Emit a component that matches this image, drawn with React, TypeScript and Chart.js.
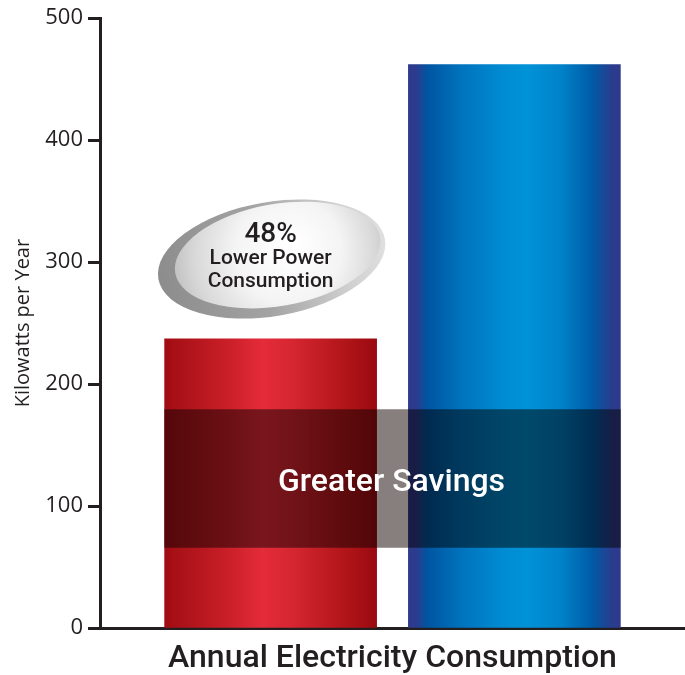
import React, { useEffect, useRef } from 'react';
import { Chart, registerables } from 'chart.js';

Chart.register(...registerables);

// ---- data ----
const categories = ['Competitor', 'Standard'];
const barPositions = [1, 2];
const consumption = [237, 462];
const savingsBand = [66, 179];
const savingsBandPosition = 1.5;
const yTickValues = [0, 100, 200, 300, 400, 500];
const yAxisTitle = 'Kilowatts per Year';
const xAxisTitle = 'Annual Electricity Consumption';
const bandLabel = 'Greater Savings';
const calloutLines = ['48%', 'Lower Power', 'Consumption'];
const calloutAnchor = { x: 1.0, y: 305 };

// ---- styles ----
const INK = '#231f20';
const BAR_PX = 212;
const BAND_PX = 456;
const redStops: [number, string][] = [
  [0, '#a00c12'], [0.06, '#a81117'], [0.3, '#ca1f29'], [0.46, '#e42b3a'],
  [0.6, '#d62631'], [0.85, '#b11519'], [1, '#9a0a10'],
];
const blueStops: [number, string][] = [
  [0, '#2e3a8c'], [0.035, '#2e3a8c'], [0.09, '#0055a2'], [0.25, '#0073bd'],
  [0.45, '#008cd2'], [0.56, '#0092d8'], [0.72, '#0082c9'], [0.87, '#005aa6'],
  [0.96, '#2a3c8e'], [1, '#2e3a8c'],
];
const fallbackColors = ['#d42430', '#0082c9'];

function barGradient(ctx: any) {
  const chart = ctx.chart;
  const xs = chart.scales && chart.scales.x;
  if (!chart.chartArea || !xs || ctx.dataIndex === undefined) {
    return fallbackColors[ctx.dataIndex || 0];
  }
  const cx = xs.getPixelForValue(barPositions[ctx.dataIndex]);
  const g = chart.ctx.createLinearGradient(cx - BAR_PX / 2, 0, cx + BAR_PX / 2, 0);
  const stops = ctx.dataIndex === 0 ? redStops : blueStops;
  stops.forEach(([o, c]) => g.addColorStop(o, c));
  return g;
}

function ellipse(c: CanvasRenderingContext2D, x: number, y: number, rx: number, ry: number, rot: number) {
  c.beginPath();
  c.ellipse(x, y, rx, ry, rot, 0, Math.PI * 2);
  c.closePath();
}

const decorPlugin = {
  id: 'decor',
  beforeDatasetDraw(chart: any, args: any) {
    if (args.index === 1) {
      chart.ctx.save();
      chart.ctx.globalCompositeOperation = 'multiply';
    }
  },
  afterDatasetDraw(chart: any, args: any) {
    if (args.index === 1) chart.ctx.restore();
  },
  afterDatasetsDraw(chart: any) {
    const c: CanvasRenderingContext2D = chart.ctx;
    // band label
    const band = chart.getDatasetMeta(1).data[0];
    if (band) {
      c.save();
      c.fillStyle = '#ffffff';
      c.font = '500 32px Roboto';
      c.textAlign = 'center';
      c.textBaseline = 'middle';
      c.fillText(bandLabel, band.x - 1, (band.y + band.base) / 2 + 4);
      c.restore();
    }
    // callout
    const xs = chart.scales.x;
    const ys = chart.scales.y;
    const ax = xs.getPixelForValue(calloutAnchor.x);
    const ay = ys.getPixelForValue(calloutAnchor.y);
    const rot = (-10 * Math.PI) / 180;
    c.save();
    // back ellipse
    const bx = ax + 1, by = ay + 3;
    const bg = c.createLinearGradient(bx - 115, by + 20, bx + 115, by - 20);
    bg.addColorStop(0, '#8c8c8c');
    bg.addColorStop(0.45, '#a3a3a3');
    bg.addColorStop(0.8, '#cfcfcf');
    bg.addColorStop(1, '#e0e0e0');
    ellipse(c, bx, by, 115, 57, rot);
    c.fillStyle = bg;
    c.fill();
    // main ellipse
    const mx = ax + 7, my = ay - 1;
    const rg = c.createRadialGradient(mx + 15, my - 8, 5, mx + 5, my, 112);
    rg.addColorStop(0, '#ffffff');
    rg.addColorStop(0.45, '#f4f4f4');
    rg.addColorStop(0.8, '#d8d8d8');
    rg.addColorStop(1, '#c0c0c0');
    ellipse(c, mx, my, 104, 51, rot);
    c.fillStyle = rg;
    c.fill();
    // text
    c.fillStyle = INK;
    c.textAlign = 'center';
    c.textBaseline = 'middle';
    c.font = '500 28px Roboto';
    c.fillText(calloutLines[0], ax, ay - 21);
    c.font = '500 21px Roboto';
    c.fillText(calloutLines[1], ax, ay + 3);
    c.fillText(calloutLines[2], ax, ay + 26);
    c.restore();
  },
};

export default function App() {
  const ref = useRef<HTMLCanvasElement | null>(null);

  useEffect(() => {
    if (!ref.current) return;
    const chart = new Chart(ref.current, {
      type: 'bar',
      data: {
        labels: categories,
        datasets: [
          {
            label: 'Consumption',
            data: barPositions.map((x, i) => ({ x, y: consumption[i] })) as any,
            backgroundColor: barGradient as any,
            borderWidth: 0,
            barThickness: BAR_PX,
            stack: 'one',
            order: 1,
          },
          {
            label: 'Savings',
            data: [{ x: savingsBandPosition, y: savingsBand }] as any,
            backgroundColor: '#877f7e',
            borderWidth: 0,
            barThickness: BAND_PX,
            stack: 'one',
            order: 0,
          },
        ],
      },
      options: {
        animation: false,
        responsive: true,
        maintainAspectRatio: false,
        layout: { padding: { top: 18, right: 0, left: 0, bottom: 0 } },
        plugins: { legend: { display: false }, tooltip: { enabled: false } },
        scales: {
          x: {
            type: 'linear',
            offset: false,
            min: 0.3,
            max: 2.7,
            ticks: { display: false },
            grid: { display: false, offset: false },
            border: { display: true, width: 3, color: INK },
            title: {
              display: true,
              text: xAxisTitle,
              color: INK,
              font: { family: 'Roboto', size: 32, weight: '500', lineHeight: 1 },
              padding: { top: 0, bottom: 0 },
            },
            afterFit: (s: any) => { s.height = 47; },
          },
          y: {
            type: 'linear',
            min: 0,
            max: 500,
            stacked: false,
            afterBuildTicks: (s: any) => { s.ticks = yTickValues.map((v) => ({ value: v })); },
            ticks: {
              padding: 5,
              color: INK,
              font: { family: 'Open Sans', size: 22 },
            },
            grid: {
              display: true,
              drawOnChartArea: false,
              drawTicks: true,
              tickLength: 12,
              tickWidth: 3,
              tickColor: INK,
              color: INK,
            },
            border: { display: true, width: 3, color: INK },
            title: {
              display: true,
              text: yAxisTitle,
              color: INK,
              font: { family: 'Open Sans', size: 20, lineHeight: 1.2 },
              padding: { top: 11, bottom: 0 },
            },
            afterFit: (s: any) => { s.width = 100; },
          },
        },
      },
      plugins: [decorPlugin],
    });
    return () => chart.destroy();
  }, []);

  return (
    <div style={{ position: 'fixed', left: 0, top: 0, width: 685, height: 675, background: '#ffffff' }}>
      <canvas ref={ref} />
    </div>
  );
}
